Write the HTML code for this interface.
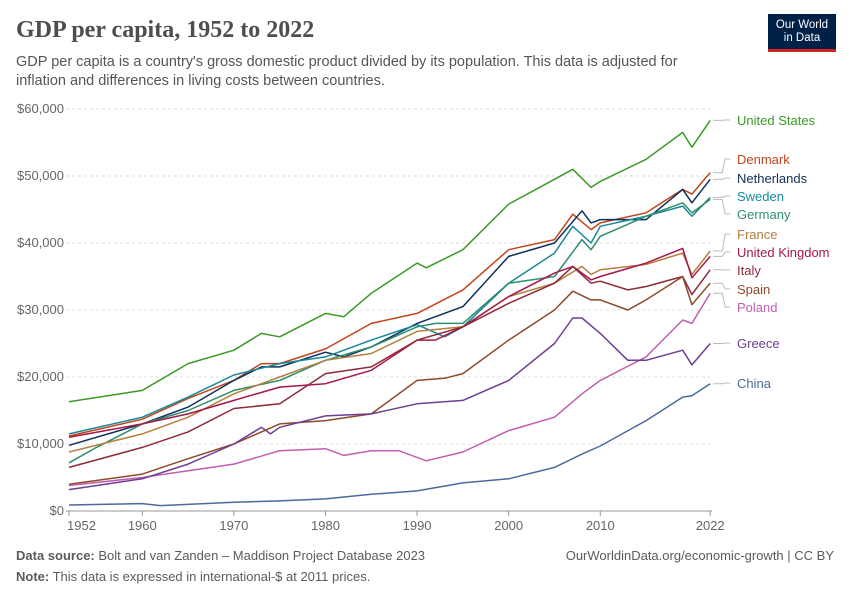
<!DOCTYPE html>
<html><head><meta charset="utf-8">
<style>
body{margin:0;background:#fff;font-family:"Liberation Sans",sans-serif;}
#wrap{position:relative;width:850px;height:600px;overflow:hidden;}
.t{position:absolute;margin:0}
</style></head>
<body>
<div id="wrap">
<h1 class="t" style="left:16px;top:17px;font-family:'Liberation Serif',serif;font-weight:bold;font-size:24px;color:#4e4e4e;">GDP per capita, 1952 to 2022</h1>
<p class="t" style="left:16px;top:53px;width:700px;font-size:14.5px;line-height:19px;color:#555;">GDP per capita is a country's gross domestic product divided by its population. This data is adjusted for inflation and differences in living costs between countries.</p>
<div class="t" style="left:768px;top:14px;width:68px;height:38px;background:#002147;color:#fff;font-size:11.5px;line-height:13px;text-align:center;padding-top:5px;box-sizing:border-box;border-bottom:3px solid #ce261e;">Our World<br>in Data</div>
<svg id="chart" width="850" height="600" style="position:absolute;left:0;top:0"></svg>
<p class="t" style="left:16px;top:548px;font-size:13px;color:#5b5b5b;"><b>Data source:</b> Bolt and van Zanden – Maddison Project Database 2023</p>
<p class="t" style="right:16px;top:548px;font-size:13px;color:#5b5b5b;">OurWorldinData.org/economic-growth | CC BY</p>
<p class="t" style="left:16px;top:569px;font-size:13px;color:#5b5b5b;"><b>Note:</b> This data is expressed in international-$ at 2011 prices.</p>
</div>
<script>
const xTicks=[1952,1960,1970,1980,1990,2000,2010,2022];
const yTicks=[0,10000,20000,30000,40000,50000,60000];
const yTickLabels=["$0","$10,000","$20,000","$30,000","$40,000","$50,000","$60,000"];
const names=["United States","Denmark","Netherlands","Sweden","Germany","France","United Kingdom","Italy","Spain","Poland","Greece","China"];
const colors=["#3a9a26","#c2451c","#0e2e5c","#17899b","#2f8e6b","#b4803e","#a6174b","#8e2a3a","#8d4a2b","#c05fb0","#6d3e91","#4c6a9c"];
const labelY=[120,159,178,196,214,234,252,270,289,307,343,383];
const usY=[1952,1960,1965,1970,1973,1975,1980,1982,1985,1990,1991,1995,2000,2005,2007,2009,2010,2015,2019,2020,2022];
const usV=[16.3,18,22,24,26.5,26,29.5,29,32.5,37,36.3,39,45.8,49.5,51,48.3,49.2,52.5,56.5,54.3,58.3];
const dkY=[1952,1960,1965,1970,1973,1975,1980,1985,1990,1995,2000,2005,2007,2009,2010,2015,2019,2020,2022];
const dkV=[11.2,13.7,16.8,19.5,22,22,24.2,28,29.5,33,39,40.5,44.3,42,43,44.5,48,47.3,50.5];
const nlY=[1952,1960,1965,1970,1973,1975,1980,1982,1985,1990,1995,2000,2005,2008,2009,2010,2015,2019,2020,2022];
const nlV=[9.8,13,15.5,19.5,21.5,21.5,23.7,23,24.5,28,30.5,38,40,44.8,43,43.5,43.5,48,46,49.5];
const seY=[1952,1960,1965,1970,1975,1980,1985,1990,1993,1995,2000,2005,2007,2009,2010,2015,2019,2020,2022];
const seV=[11.5,14,17,20.3,22,23,25.5,27.8,26,27.5,34,38.5,42.5,40,42.5,44,45.5,44,46.8];
const deY=[1952,1955,1960,1965,1970,1975,1980,1985,1990,1992,1995,2000,2005,2008,2009,2010,2015,2019,2020,2022];
const deV=[7.2,9.5,13,15,18,19.5,22.5,24.5,27.5,28,28,34,35,40.5,39,41,44,46,44.5,46.5];
const frY=[1952,1960,1965,1970,1975,1980,1985,1990,1995,2000,2005,2008,2009,2010,2015,2019,2020,2022];
const frV=[8.8,11.5,14,17.5,20,22.5,23.5,26.8,27.5,32,34,36.5,35.3,36,36.8,38.5,35.3,38.8];
const ukY=[1952,1960,1965,1970,1975,1980,1985,1990,1992,1995,2000,2005,2007,2009,2010,2015,2019,2020,2022];
const ukV=[11,13,14.5,16.5,18.5,19,21,25.5,25.5,27.5,32,35.5,36.5,34.5,35,37,39.2,34.8,38];
const itY=[1952,1960,1965,1970,1975,1980,1985,1990,1995,2000,2005,2007,2009,2010,2013,2015,2019,2020,2022];
const itV=[6.5,9.5,11.8,15.3,16,20.5,21.5,25.5,27.5,31,34,36.5,34,34.3,33,33.5,35,32.3,36];
const esY=[1952,1960,1965,1970,1975,1980,1985,1990,1993,1995,2000,2005,2007,2009,2010,2013,2015,2019,2020,2022];
const esV=[4,5.5,7.8,10,13,13.5,14.5,19.5,19.8,20.5,25.5,30,32.8,31.5,31.5,30,31.5,35,30.8,34];
const plY=[1952,1960,1965,1970,1975,1980,1982,1985,1988,1991,1995,2000,2005,2008,2010,2015,2019,2020,2022];
const plV=[3.8,5,6,7,9,9.3,8.3,9,9,7.5,8.8,12,14,17.5,19.5,23,28.5,28,32.5];
const grY=[1952,1960,1965,1970,1973,1974,1975,1980,1985,1990,1995,2000,2005,2007,2008,2010,2013,2015,2019,2020,2022];
const grV=[3.2,4.8,7,10,12.5,11.5,12.5,14.2,14.5,16,16.5,19.5,25,28.8,28.8,26.5,22.5,22.5,24,21.8,25];
const cnY=[1952,1960,1962,1970,1975,1980,1985,1990,1995,2000,2005,2008,2010,2015,2019,2020,2022];
const cnV=[0.9,1.1,0.8,1.3,1.5,1.8,2.5,3,4.2,4.8,6.5,8.5,9.7,13.5,17,17.2,19];
const seriesYears=[usY,dkY,nlY,seY,deY,frY,ukY,itY,esY,plY,grY,cnY];
const seriesVals=[usV,dkV,nlV,seV,deV,frV,ukV,itV,esV,plV,grV,cnV];

const NS="http://www.w3.org/2000/svg";
const svg=document.getElementById('chart');
const x=yr=>69+(yr-1952)*9.16;
const y=v=>511-v*0.0067;
function mk(tag,attrs){const e=document.createElementNS(NS,tag);for(const k in attrs)e.setAttribute(k,attrs[k]);svg.appendChild(e);return e;}
yTicks.forEach((t,i)=>{
  const g=mk('line',{x1:66,x2:712,y1:y(t),y2:y(t),stroke:i===0?'#999':'#ddd','stroke-dasharray':i===0?'':'3,3'});
  
  
  const tx=mk('text',{x:64,y:y(t)+4,'text-anchor':'end','font-size':13,fill:'#666','font-family':'Liberation Sans, sans-serif'});
  tx.textContent=yTickLabels[i];
  
  
});
xTicks.forEach((t,i)=>{
  const tk=mk('line',{x1:x(t),x2:x(t),y1:511,y2:516,stroke:'#999'});
  
  
  const tx=mk('text',{x:i===0?x(t)-2:x(t),y:530,'text-anchor':i===0?'start':'middle','font-size':13,fill:'#666','font-family':'Liberation Sans, sans-serif'});
  tx.textContent=t;
  
  
});
seriesVals.forEach((vals,s)=>{
  const yrs=seriesYears[s];
  const pts=vals.map((v,i)=>x(yrs[i]).toFixed(1)+','+y(v*1000).toFixed(1)).join(' ');
  const pl=mk('polyline',{points:pts,fill:'none',stroke:colors[s],'stroke-width':1.5,'stroke-linejoin':'round'});
  
  
  const lx=x(yrs[yrs.length-1]), ly=y(vals[vals.length-1]*1000);
  const c=mk('polyline',{points:`${lx+3},${ly} ${lx+12},${ly} ${lx+15},${labelY[s]} ${lx+20},${labelY[s]}`,fill:'none',stroke:'#bbb','stroke-width':1});
  
  
  const tx=mk('text',{x:737,y:labelY[s]+5,'font-size':13,fill:colors[s],'font-family':'Liberation Sans, sans-serif'});
  tx.textContent=names[s];
  
  
});
</script>
</body></html>
